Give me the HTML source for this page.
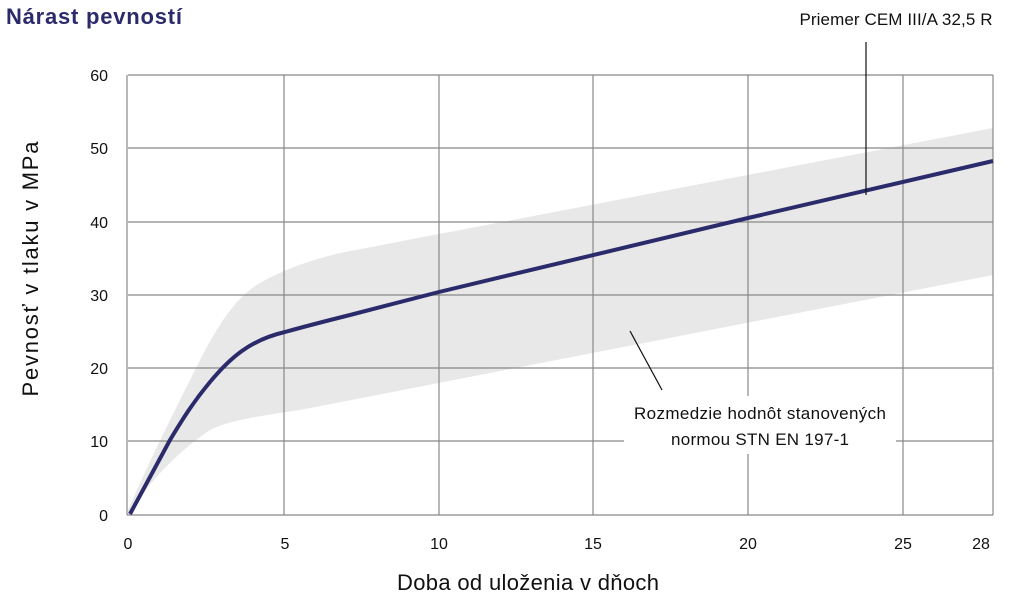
<!DOCTYPE html>
<html><head><meta charset="utf-8"><style>
body{margin:0;background:#fff;}
svg{display:block;font-family:"Liberation Sans",sans-serif;}
</style></head><body>
<svg width="1021" height="609" viewBox="0 0 1021 609">
<text x="6" y="24" font-size="22" font-weight="bold" fill="#2b2b6b" textLength="176">Nárast pevností</text>
<path d="M128,510 C150,460 170,420 190,380 S230,300 260,283 S320,258 340,253 L993,128 L993,275 L300,410 C260,416 230,420 210,430 C180,450 150,480 128,515 Z" fill="#e8e8e8"/>
<g stroke="#888" stroke-width="1.2">
<line x1="128" y1="75" x2="993" y2="75"/><line x1="128" y1="148" x2="993" y2="148"/>
<line x1="128" y1="222" x2="993" y2="222"/><line x1="128" y1="295" x2="993" y2="295"/>
<line x1="128" y1="368" x2="993" y2="368"/><line x1="128" y1="441" x2="993" y2="441"/>
<line x1="284" y1="75" x2="284" y2="515"/><line x1="439" y1="75" x2="439" y2="515"/>
<line x1="593" y1="75" x2="593" y2="515"/><line x1="748" y1="75" x2="748" y2="515"/>
<line x1="903" y1="75" x2="903" y2="515"/><line x1="993" y1="75" x2="993" y2="515"/>
<line x1="127" y1="75" x2="127" y2="515"/><line x1="127" y1="515" x2="993" y2="515"/>
</g>
<path d="M130,514 L170,440 C185,415 195,400 210,382 C230,358 250,340 285,332 C310,325 330,320 350,315 L439,292 L748,218 L993,161" fill="none" stroke="#2b2b6b" stroke-width="4"/>
<rect x="624" y="396" width="272" height="58" fill="#fff"/>
<line x1="630" y1="331" x2="662" y2="390" stroke="#111" stroke-width="1.2"/>
<line x1="866" y1="42" x2="866" y2="195" stroke="#111" stroke-width="1.2"/>
<g font-size="17" fill="#111" text-anchor="middle">
<text x="760" y="419" textLength="252">Rozmedzie hodnôt stanovených</text>
<text x="760" y="445" textLength="178">normou STN EN 197-1</text>
<text x="896" y="25" textLength="193">Priemer CEM III/A 32,5 R</text>
</g>
<g font-size="16" fill="#111" text-anchor="end">
<text x="108" y="81">60</text><text x="108" y="154">50</text><text x="108" y="228">40</text>
<text x="108" y="301">30</text><text x="108" y="374">20</text><text x="108" y="447">10</text><text x="108" y="521">0</text>
</g>
<g font-size="16" fill="#111" text-anchor="middle">
<text x="128" y="549">0</text><text x="285" y="549">5</text><text x="439" y="549">10</text>
<text x="593" y="549">15</text><text x="748" y="549">20</text><text x="903" y="549">25</text><text x="981" y="549">28</text>
<text x="528" y="590" font-size="22" textLength="262">Doba od uloženia v dňoch</text>
</g>
<text transform="translate(38,269) rotate(-90)" font-size="22" fill="#111" text-anchor="middle" textLength="255">Pevnosť v tlaku v MPa</text>
</svg>
</body></html>
